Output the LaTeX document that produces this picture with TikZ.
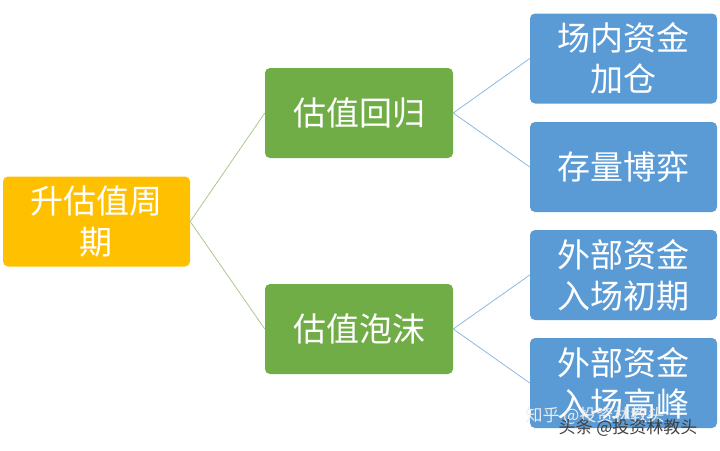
\documentclass[tikz,border=0pt]{standalone}
\usepackage{fontspec}
\newfontfamily\cjk{Noto Sans CJK SC}
\definecolor{cOr}{HTML}{FFC000}
\definecolor{cGr}{HTML}{70AD47}
\definecolor{cBl}{HTML}{5B9BD5}
\definecolor{cGL}{HTML}{A9C98E}
\definecolor{cBL}{HTML}{8DB8E2}
\tikzset{
 box/.style={rounded corners=5pt, minimum height=90pt, text=white, inner sep=2pt, align=center,
   font=\cjk\fontsize{33}{41}\selectfont},
 rootbox/.style={box, fill=cOr, minimum width=187pt},
 midbox/.style={box, fill=cGr, minimum width=188pt},
 leafbox/.style={box, fill=cBl, minimum width=187pt},
 gline/.style={draw=cGL, line width=0.8pt},
 bline/.style={draw=cBL, line width=0.8pt},
}
\begin{document}
\begin{tikzpicture}[x=1pt,y=-1pt]
\useasboundingbox (0,0) rectangle (720,450);
\node[rootbox] (r) at (96.5,221.5) {升估值周\\期};
\node[midbox] (m1) at (359,113) {估值回归};
\node[midbox] (m2) at (359,329) {估值泡沫};
\node[leafbox] (l1) at (623.5,58.5) {场内资金\\加仓};
\node[leafbox] (l2) at (623.5,167) {存量博弈};
\node[leafbox] (l3) at (623.5,275) {外部资金\\入场初期};
\node[leafbox] (l4) at (623.5,383) {外部资金\\入场高峰};
\draw[gline] (r.east) -- (m1.west);
\draw[gline] (r.east) -- (m2.west);
\draw[bline] (m1.east) -- (l1.west);
\draw[bline] (m1.east) -- (l2.west);
\draw[bline] (m2.east) -- (l3.west);
\draw[bline] (m2.east) -- (l4.west);
\node[font=\cjk\fontsize{17}{20}\selectfont, text=white!85!gray] (wm1) at (595,416) {知乎 @投资林教头};
\node[font=\cjk\fontsize{17}{20}\selectfont, text=black!75] (wm2) at (628,428) {头条 @投资林教头};
\end{tikzpicture}
\end{document}
